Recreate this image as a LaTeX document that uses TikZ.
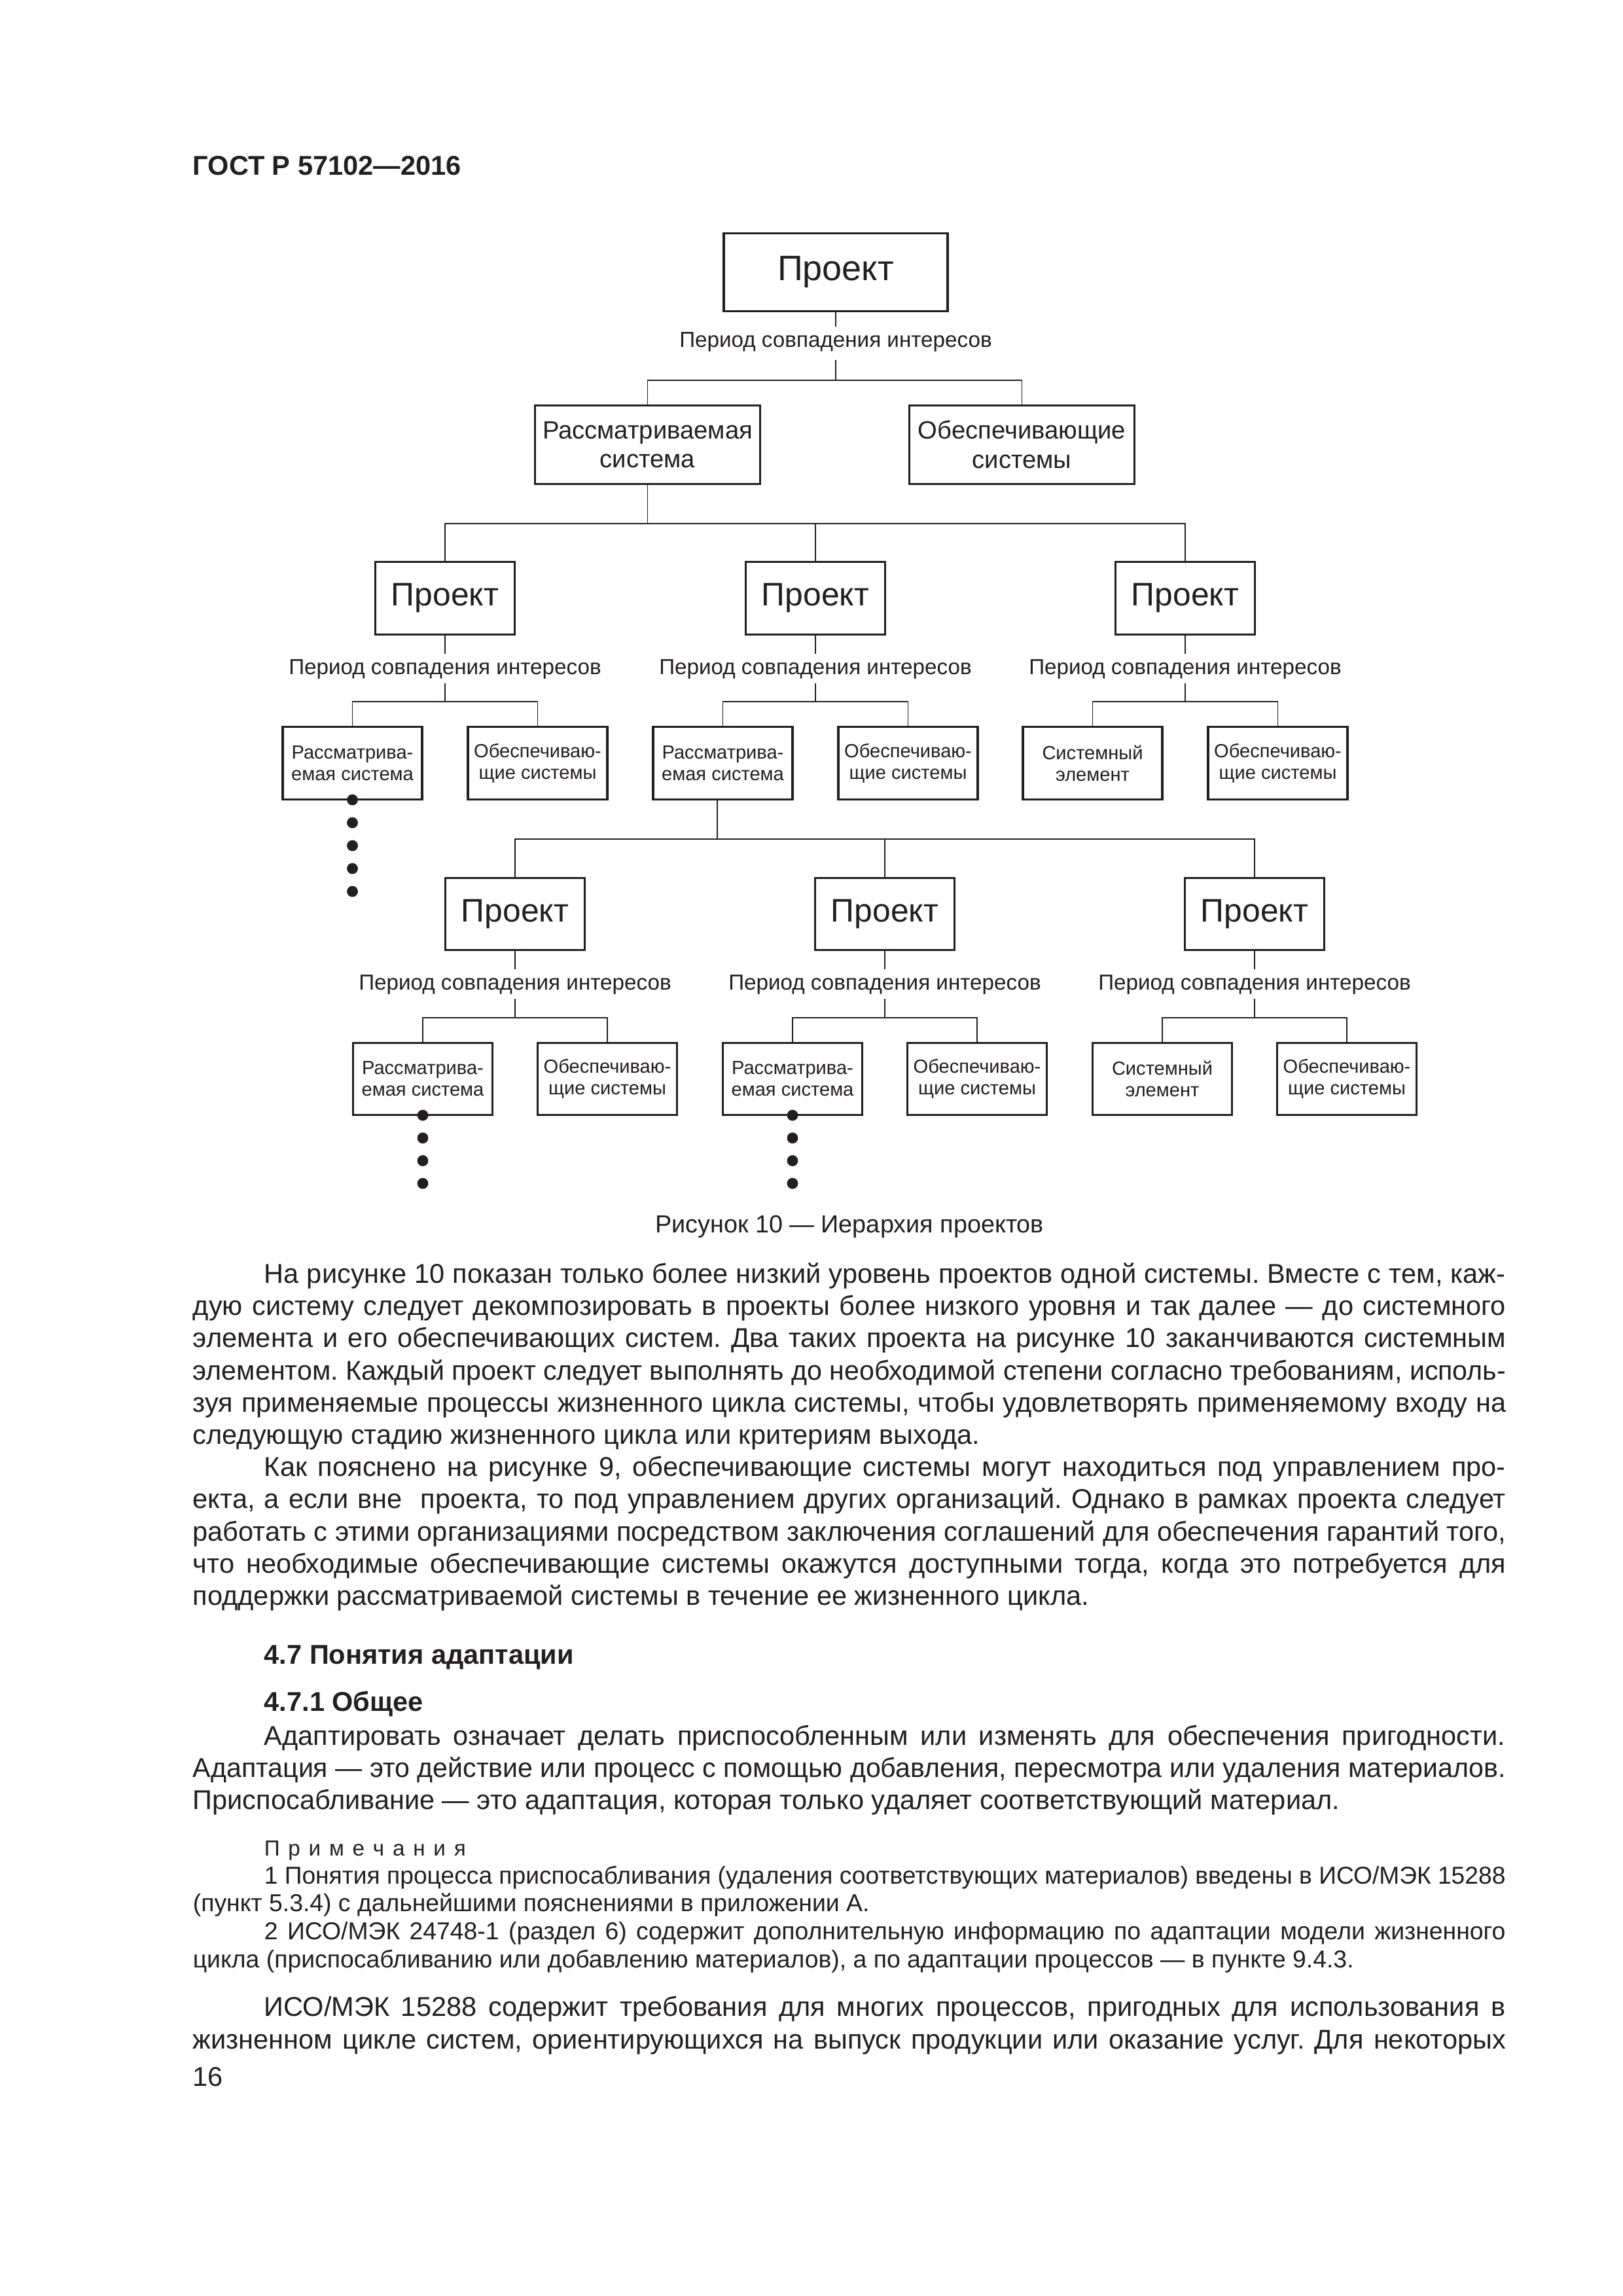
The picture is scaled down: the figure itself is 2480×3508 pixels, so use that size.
\documentclass[tikz,border=0pt]{standalone}
\usepackage{fontspec}
\setmainfont{Liberation Sans}
\usepackage{graphicx}
\definecolor{ink}{RGB}{35,31,32}
\frenchspacing
\newsavebox\jbox
\newcommand\jl[2]{\sbox\jbox{#2}\ifdim\wd\jbox>#1\relax\resizebox{#1}{\height}{\usebox\jbox}\else\makebox[#1][s]{#2}\fi}
\newcommand\FW{483.3pt}
\newcommand\IW{456.9pt}
\newcommand\bodyfont{\fontsize{10}{12}\selectfont}
\newcommand\notefont{\fontsize{9}{10.8}\selectfont}
\newcommand\ls{\hspace{3.08pt}}
\begin{document}
\begin{tikzpicture}[x=0.2409pt,y=-0.2409pt,
  every node/.style={text=ink},
  pbox/.style={draw=ink, line width=0.75pt, inner sep=0pt, align=center, fill=white},
  toppr/.style={pbox, minimum width=82.4pt, minimum height=28.7pt, font=\fontsize{13}{15}\selectfont},
  sysbox/.style={pbox, minimum width=82.9pt, minimum height=28.9pt, font=\fontsize{9.2}{10.8}\selectfont},
  prbox/.style={pbox, minimum width=51.3pt, minimum height=26.7pt, font=\fontsize{12}{14}\selectfont},
  smbox/.style={pbox, minimum width=51.3pt, minimum height=26.7pt, font=\fontsize{7}{7.95}\selectfont},
  lbl/.style={inner sep=0pt, anchor=base, font=\fontsize{8}{9.6}\selectfont},
  conn/.style={draw=ink, line width=0.4pt},
  dot/.style={circle, fill=ink, inner sep=0pt, minimum size=4.05pt},
  txt/.style={anchor=base west, inner sep=0pt, font=\bodyfont},
  note/.style={anchor=base west, inner sep=0pt, font=\notefont}]
\fill[white] (0,0) rectangle (2480,3508);
\useasboundingbox (0,0) rectangle (2480,3508);

% header
\node[anchor=base west, inner sep=0pt, font=\fontsize{10}{12}\selectfont\bfseries] (hdr) at (294,267) {ГОСТ Р 57102—2016};

% ---------- level 0
\node[toppr] (P0) at (1277,416) {Проект};
\node[lbl] (T0) at (1277,530) {Период совпадения интересов};
\coordinate (U0) at (1277,499);
\coordinate (D0) at (1277,550);
\coordinate (B0) at (1277,581);
\node[sysbox] (S0a) at (989.5,679.5) {Рассматриваемая\\система};
\node[sysbox] (S0b) at (1561.5,679.5) {Обеспечивающие\\системы};
\draw[conn] (P0.south) -- (U0);
\draw[conn] (D0) -- (B0);
\draw[conn] (S0a.north) |- (B0) -| (S0b.north);

% ---------- level 1
\coordinate (B1) at (989.5,800);
\node[prbox] (P1a) at (680,914) {Проект};
\node[prbox] (P1b) at (1246,914) {Проект};
\node[prbox] (P1c) at (1811,914) {Проект};
\draw[conn] (S0a.south) -- (B1);
\draw[conn] (P1a.north) |- (B1) -| (P1c.north);
\draw[conn] (P1b.north) -- (P1b.north |- B1);

% group 1a
\node[lbl] (T1a) at (680,1030) {Период совпадения интересов};
\coordinate (U1a) at (680,999); \coordinate (D1a) at (680,1044); \coordinate (B1a) at (680,1072);
\node[smbox] (Q1a1) at (538.5,1166) {Рассматрива-\\емая система};
\node[smbox] (Q1a2) at (821.5,1166) {Обеспечиваю-\\щие системы};
\draw[conn] (P1a.south) -- (U1a);
\draw[conn] (D1a) -- (B1a);
\draw[conn] (Q1a1.north) |- (B1a) -| (Q1a2.north);
% group 1b
\node[lbl] (T1b) at (1246,1030) {Период совпадения интересов};
\coordinate (U1b) at (1246,999); \coordinate (D1b) at (1246,1044); \coordinate (B1b) at (1246,1072);
\node[smbox] (Q1b1) at (1104.5,1166) {Рассматрива-\\емая система};
\node[smbox] (Q1b2) at (1387.5,1166) {Обеспечиваю-\\щие системы};
\draw[conn] (P1b.south) -- (U1b);
\draw[conn] (D1b) -- (B1b);
\draw[conn] (Q1b1.north) |- (B1b) -| (Q1b2.north);
% group 1c
\node[lbl] (T1c) at (1811,1030) {Период совпадения интересов};
\coordinate (U1c) at (1811,999); \coordinate (D1c) at (1811,1044); \coordinate (B1c) at (1811,1072);
\node[smbox] (Q1c1) at (1669.5,1166) {Системный\\элемент};
\node[smbox] (Q1c2) at (1952.5,1166) {Обеспечиваю-\\щие системы};
\draw[conn] (P1c.south) -- (U1c);
\draw[conn] (D1c) -- (B1c);
\draw[conn] (Q1c1.north) |- (B1c) -| (Q1c2.north);

% dots under 1a1
\foreach \k in {0,...,4} \node[dot] (d1\k) at (538.5,1222+35*\k) {};

% ---------- level 2
\coordinate (B2) at (1096,1282);
\node[prbox] (P2a) at (787,1396.5) {Проект};
\node[prbox] (P2b) at (1352,1396.5) {Проект};
\node[prbox] (P2c) at (1917,1396.5) {Проект};
\draw[conn] (Q1b1.south -| B2) -- (B2);
\draw[conn] (P2a.north) |- (B2) -| (P2c.north);
\draw[conn] (P2b.north) -- (P2b.north |- B2);

% group 2a
\node[lbl] (T2a) at (787,1512) {Период совпадения интересов};
\coordinate (U2a) at (787,1481); \coordinate (D2a) at (787,1526); \coordinate (B2a) at (787,1555);
\node[smbox] (Q2a1) at (646,1648.5) {Рассматрива-\\емая система};
\node[smbox] (Q2a2) at (928,1648.5) {Обеспечиваю-\\щие системы};
\draw[conn] (P2a.south) -- (U2a);
\draw[conn] (D2a) -- (B2a);
\draw[conn] (Q2a1.north) |- (B2a) -| (Q2a2.north);
% group 2b
\node[lbl] (T2b) at (1352,1512) {Период совпадения интересов};
\coordinate (U2b) at (1352,1481); \coordinate (D2b) at (1352,1526); \coordinate (B2b) at (1352,1555);
\node[smbox] (Q2b1) at (1211,1648.5) {Рассматрива-\\емая система};
\node[smbox] (Q2b2) at (1493,1648.5) {Обеспечиваю-\\щие системы};
\draw[conn] (P2b.south) -- (U2b);
\draw[conn] (D2b) -- (B2b);
\draw[conn] (Q2b1.north) |- (B2b) -| (Q2b2.north);
% group 2c
\node[lbl] (T2c) at (1917,1512) {Период совпадения интересов};
\coordinate (U2c) at (1917,1481); \coordinate (D2c) at (1917,1526); \coordinate (B2c) at (1917,1555);
\node[smbox] (Q2c1) at (1776,1648.5) {Системный\\элемент};
\node[smbox] (Q2c2) at (2058,1648.5) {Обеспечиваю-\\щие системы};
\draw[conn] (P2c.south) -- (U2c);
\draw[conn] (D2c) -- (B2c);
\draw[conn] (Q2c1.north) |- (B2c) -| (Q2c2.north);

% dots under 2a1 and 2b1
\foreach \k in {0,...,3} {
  \node[dot] (d2a\k) at (646,1704+34.7*\k) {};
  \node[dot] (d2b\k) at (1211,1704+34.7*\k) {};
}

% caption
\node[anchor=base, inner sep=0pt, font=\fontsize{9.1}{11}\selectfont] (cap) at (1298,1883) {Рисунок 10 — Иерархия проектов};

% ---------- body text
\node[txt] (a1) at (403,1960) {\jl{\IW}{На рисунке 10 показан только более низкий уровень проектов одной системы. Вместе с тем, каж-}};
\node[txt] (a2) at (294,2009) {\jl{\FW}{дую систему следует декомпозировать в проекты более низкого уровня и так далее — до системного}};
\node[txt] (a3) at (294,2058) {\jl{\FW}{элемента и его обеспечивающих систем. Два таких проекта на рисунке 10 заканчиваются системным}};
\node[txt] (a4) at (294,2108) {\jl{\FW}{элементом. Каждый проект следует выполнять до необходимой степени согласно требованиям, исполь-}};
\node[txt] (a5) at (294,2157) {\jl{\FW}{зуя применяемые процессы жизненного цикла системы, чтобы удовлетворять применяемому входу на}};
\node[txt] (a6) at (294,2206) {следующую стадию жизненного цикла или критериям выхода.};
\node[txt] (b1) at (403,2255) {\jl{\IW}{Как пояснено на рисунке 9, обеспечивающие системы могут находиться под управлением про-}};
\node[txt] (b2) at (294,2304) {\jl{\FW}{екта, а если вне\ \ проекта, то под управлением других организаций. Однако в рамках проекта следует}};
\node[txt] (b3) at (294,2354) {\jl{\FW}{работать с этими организациями посредством заключения соглашений для обеспечения гарантий того,}};
\node[txt] (b4) at (294,2403) {\jl{\FW}{что необходимые обеспечивающие системы окажутся доступными тогда, когда это потребуется для}};
\node[txt] (b5) at (294,2452) {поддержки рассматриваемой системы в течение ее жизненного цикла.};

\node[txt, font=\bodyfont\bfseries] (h1) at (403,2542) {4.7 Понятия адаптации};
\node[txt, font=\bodyfont\bfseries] (h2) at (403,2614) {4.7.1 Общее};

\node[txt] (c1) at (403,2666) {\jl{\IW}{Адаптировать означает делать приспособленным или изменять для обеспечения пригодности.}};
\node[txt] (c2) at (294,2715) {\jl{\FW}{Адаптация — это действие или процесс с помощью добавления, пересмотра или удаления материалов.}};
\node[txt] (c3) at (294,2764) {Приспосабливание — это адаптация, которая только удаляет соответствующий материал.};

\node[note, font=\fontsize{8}{9.6}\selectfont] (n0) at (403,2835) {П\ls р\ls и\ls м\ls е\ls ч\ls а\ls н\ls и\ls я};
\node[note] (n1) at (403,2878) {\jl{\IW}{1 Понятия процесса приспосабливания (удаления соответствующих материалов) введены в ИСО/МЭК 15288}};
\node[note] (n2) at (294,2920) {(пункт 5.3.4) с дальнейшими пояснениями в приложении А.};
\node[note] (n3) at (403,2963) {\jl{\IW}{2 ИСО/МЭК 24748-1 (раздел 6) содержит дополнительную информацию по адаптации модели жизненного}};
\node[note] (n4) at (294,3006) {цикла (приспосабливанию или добавлению материалов), а по адаптации процессов — в пункте 9.4.3.};

\node[txt] (e1) at (403,3080) {\jl{\IW}{ИСО/МЭК 15288 содержит требования для многих процессов, пригодных для использования в}};
\node[txt] (e2) at (294,3130) {\jl{\FW}{жизненном цикле систем, ориентирующихся на выпуск продукции или оказание услуг. Для некоторых}};

\node[txt] (pg) at (294,3187) {16};
\end{tikzpicture}
\end{document}
